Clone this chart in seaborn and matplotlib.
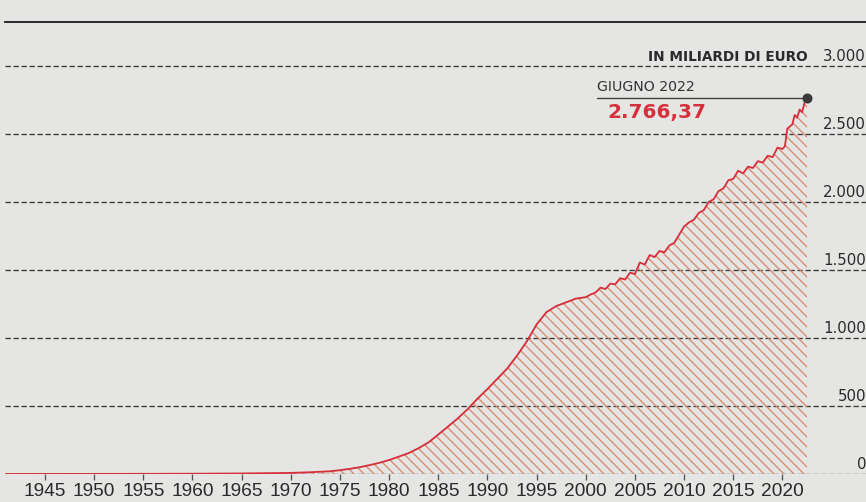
import matplotlib
matplotlib.use("Agg")
import matplotlib.pyplot as plt
import seaborn as sns
import pandas as pd

# debito pubblico italiano, miliardi di euro
anni = [1941, 1945, 1950, 1955, 1960, 1965, 1970, 1972, 1974, 1975, 1976, 1977, 1978,
        1979, 1980, 1981, 1982, 1983, 1984, 1985, 1986, 1987, 1988, 1989, 1990,
        1991, 1992, 1993, 1994, 1995, 1996, 1997, 1998, 1999, 2000,
        2000.5, 2001, 2001.5, 2002, 2002.5, 2003, 2003.5, 2004, 2004.5, 2005,
        2005.5, 2006, 2006.5, 2007, 2007.5, 2008, 2008.5, 2009, 2009.5, 2010,
        2010.5, 2011, 2011.5, 2012, 2012.5, 2013, 2013.5, 2014, 2014.5, 2015,
        2015.5, 2016, 2016.5, 2017, 2017.5, 2018, 2018.5, 2019, 2019.5, 2020,
        2020.25, 2020.5, 2021, 2021.25, 2021.5, 2021.75, 2022, 2022.25, 2022.5]
debito = [0.1, 0.3, 0.6, 1.2, 2, 4, 8, 13, 20, 28, 38, 50, 65,
          82, 103, 128, 154, 190, 232, 290, 350, 410, 478, 555, 625,
          700, 775, 870, 975, 1100, 1190, 1235, 1262, 1290, 1300,
          1320, 1335, 1370, 1360, 1400, 1395, 1440, 1430, 1480, 1470,
          1555, 1540, 1610, 1595, 1640, 1630, 1680, 1700, 1760, 1820,
          1850, 1870, 1920, 1940, 2000, 2020, 2080, 2100, 2160, 2170,
          2230, 2210, 2260, 2250, 2300, 2290, 2340, 2330, 2400, 2390,
          2410, 2540, 2570, 2640, 2620, 2680, 2660, 2730, 2766.37]
griglia = [500, 1000, 1500, 2000, 2500, 3000]
etichette_y = ["500", "1.000", "1.500", "2.000", "2.500", "3.000"]
anni_tick = list(range(1945, 2021, 5))

df = pd.DataFrame({"anno": anni, "debito": debito})

sns.set_theme(style="white")
plt.rcParams["font.family"] = ["DejaVu Sans"]
plt.rcParams["hatch.linewidth"] = 0.8

bg = "#e5e5e3"
rosso = "#d6303c"
grigio = "#3a3a3a"
tratteggio = chr(92) * 4  # linee diagonali fitte

fig = plt.figure(figsize=(866 / 120, 502 / 120), dpi=120, facecolor=bg)
ax = fig.add_axes([5 / 866, 28 / 502, 861 / 866, 452 / 502])
ax.set_facecolor(bg)
ax.set_xlim(1940.93, 2028.5)
ax.set_ylim(0, 3323.5)

for v in [0] + griglia:
    ax.axhline(v, color=grigio, lw=0.8, ls=(0, (4, 2)), zorder=1)

ax.fill_between(df["anno"], df["debito"], 0, facecolor="none",
                edgecolor="#d98a6c", hatch=tratteggio, linewidth=0, zorder=2)
sns.lineplot(data=df, x="anno", y="debito", color=rosso, lw=1.1, ax=ax, zorder=3)

# etichette asse y sul lato destro
for v, t in zip(griglia, etichette_y):
    ax.text(1.0, v + 14, t, transform=ax.get_yaxis_transform(), ha="right",
            va="bottom", fontsize=9, color="#2a2a2a")
ax.text(1.0, 14, "0", transform=ax.get_yaxis_transform(), ha="right",
        va="bottom", fontsize=9, color="#2a2a2a")
ax.text(2022.6, 3000 + 14, "IN MILIARDI DI EURO", ha="right", va="bottom",
        fontsize=8.2, fontweight="bold", color="#2a2a2a")

# annotazione ultimo valore
x_fin, y_fin = anni[-1], debito[-1]
ax.plot([2001.15, x_fin], [y_fin, y_fin], color=grigio, lw=0.8, zorder=4)
ax.plot([x_fin], [y_fin], "o", ms=5, color=grigio, zorder=5)
ax.text(2001.15, y_fin + 25, "GIUGNO 2022", ha="left", va="bottom",
        fontsize=8.5, color="#333333")
ax.text(2002.2, y_fin - 40, "2.766,37", ha="left", va="top",
        fontsize=12, fontweight="bold", color=rosso)

ax.set_xticks(anni_tick)
ax.set_xticklabels([str(a) for a in anni_tick], fontsize=11.5,
                   family=["Liberation Sans", "DejaVu Sans"],
                   color="#2a2a2a")
ax.tick_params(axis="x", direction="out", length=3.6, width=0.8,
               color="#555555", pad=2, bottom=True)
ax.set_yticks([])
ax.set_xlabel("")
ax.set_ylabel("")
for s in ["left", "right", "bottom"]:
    ax.spines[s].set_visible(False)
ax.spines["top"].set_color("#1e1e1e")
ax.spines["top"].set_linewidth(1.1)

fig.savefig("out.png", dpi=120, facecolor=bg)
